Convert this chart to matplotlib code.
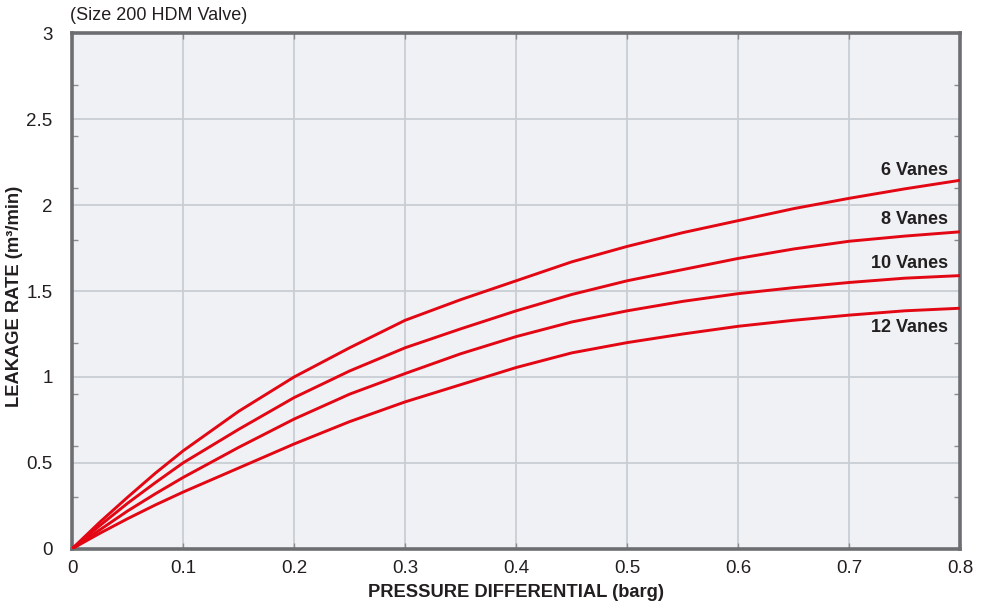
import numpy as np
import matplotlib
matplotlib.use('Agg')
import matplotlib.pyplot as plt
from matplotlib.ticker import MultipleLocator

plt.rcParams['font.family'] = ['Liberation Sans', 'DejaVu Sans']

# Data
pressure = [0, 0.025, 0.05, 0.075, 0.1, 0.15, 0.2, 0.25, 0.3, 0.35, 0.4, 0.45, 0.5, 0.55, 0.6, 0.65, 0.7, 0.75, 0.8]
vanes_6 = [0, 0.155, 0.30, 0.44, 0.57, 0.80, 1.00, 1.17, 1.33, 1.45, 1.56, 1.67, 1.76, 1.84, 1.91, 1.98, 2.04, 2.095, 2.145]
vanes_8 = [0, 0.135, 0.265, 0.385, 0.50, 0.695, 0.88, 1.035, 1.17, 1.28, 1.385, 1.48, 1.56, 1.625, 1.69, 1.745, 1.79, 1.82, 1.845]
vanes_10 = [0, 0.11, 0.22, 0.32, 0.415, 0.59, 0.755, 0.90, 1.02, 1.135, 1.235, 1.32, 1.385, 1.44, 1.485, 1.52, 1.55, 1.575, 1.59]
vanes_12 = [0, 0.09, 0.175, 0.255, 0.33, 0.47, 0.61, 0.74, 0.855, 0.955, 1.055, 1.14, 1.20, 1.25, 1.295, 1.33, 1.36, 1.385, 1.40]

series = [
    ('6 Vanes', vanes_6, 2.20),
    ('8 Vanes', vanes_8, 1.915),
    ('10 Vanes', vanes_10, 1.66),
    ('12 Vanes', vanes_12, 1.29),
]

x_ticks = [0, 0.1, 0.2, 0.3, 0.4, 0.5, 0.6, 0.7, 0.8]
x_labels = ['0', '0.1', '0.2', '0.3', '0.4', '0.5', '0.6', '0.7', '0.8']
y_ticks = [0, 0.5, 1, 1.5, 2, 2.5, 3]
y_labels = ['0', '0.5', '1', '1.5', '2', '2.5', '3']

fig = plt.figure(figsize=(9.88, 6.07), dpi=100)
ax = fig.add_axes([0.073, 0.096, 0.899, 0.849])
ax.set_facecolor('#eff1f5')

for name, vals, label_y in series:
    ax.plot(pressure, vals, color='#e30613', lw=2.1, solid_joinstyle='round', zorder=3)
    ax.text(0.789, label_y, name, ha='right', va='center', fontsize=13,
            fontweight='bold', color='#231f20')

ax.set_xlim(0, 0.8)
ax.set_ylim(0, 3)
ax.set_xticks(x_ticks)
ax.set_xticklabels(x_labels)
ax.set_yticks(y_ticks)
ax.set_yticklabels(y_labels)
ax.yaxis.set_minor_locator(MultipleLocator(0.3))

ax.grid(True, which='major', color='#c9cdd4', lw=1.3, zorder=0)
ax.set_axisbelow(True)

for sp in ax.spines.values():
    sp.set_color('#6d6e71')
    sp.set_linewidth(2.6)

ax.tick_params(axis='x', which='major', direction='in', length=4, width=1,
               color='#8a8b8e', top=True, labelsize=13.5, labelcolor='#231f20', pad=8)
ax.tick_params(axis='y', which='major', length=0, labelsize=13.5,
               labelcolor='#231f20', pad=14)
ax.tick_params(axis='y', which='minor', direction='in', length=4, width=1,
               color='#8a8b8e', right=True)

ax.set_xlabel('PRESSURE DIFFERENTIAL (barg)', fontsize=13.2, fontweight='bold',
              color='#231f20')
ax.set_ylabel('LEAKAGE RATE (m³/min)', fontsize=13.2, fontweight='bold',
              color='#231f20')
ax.xaxis.set_label_coords(0.5, -0.068)
ax.yaxis.set_label_coords(-0.055, 0.49)
fig.text(0.071, 0.974, '(Size 200 HDM Valve)', fontsize=13, color='#231f20',
         ha='left', va='center')

fig.savefig('out.png', dpi=100)
